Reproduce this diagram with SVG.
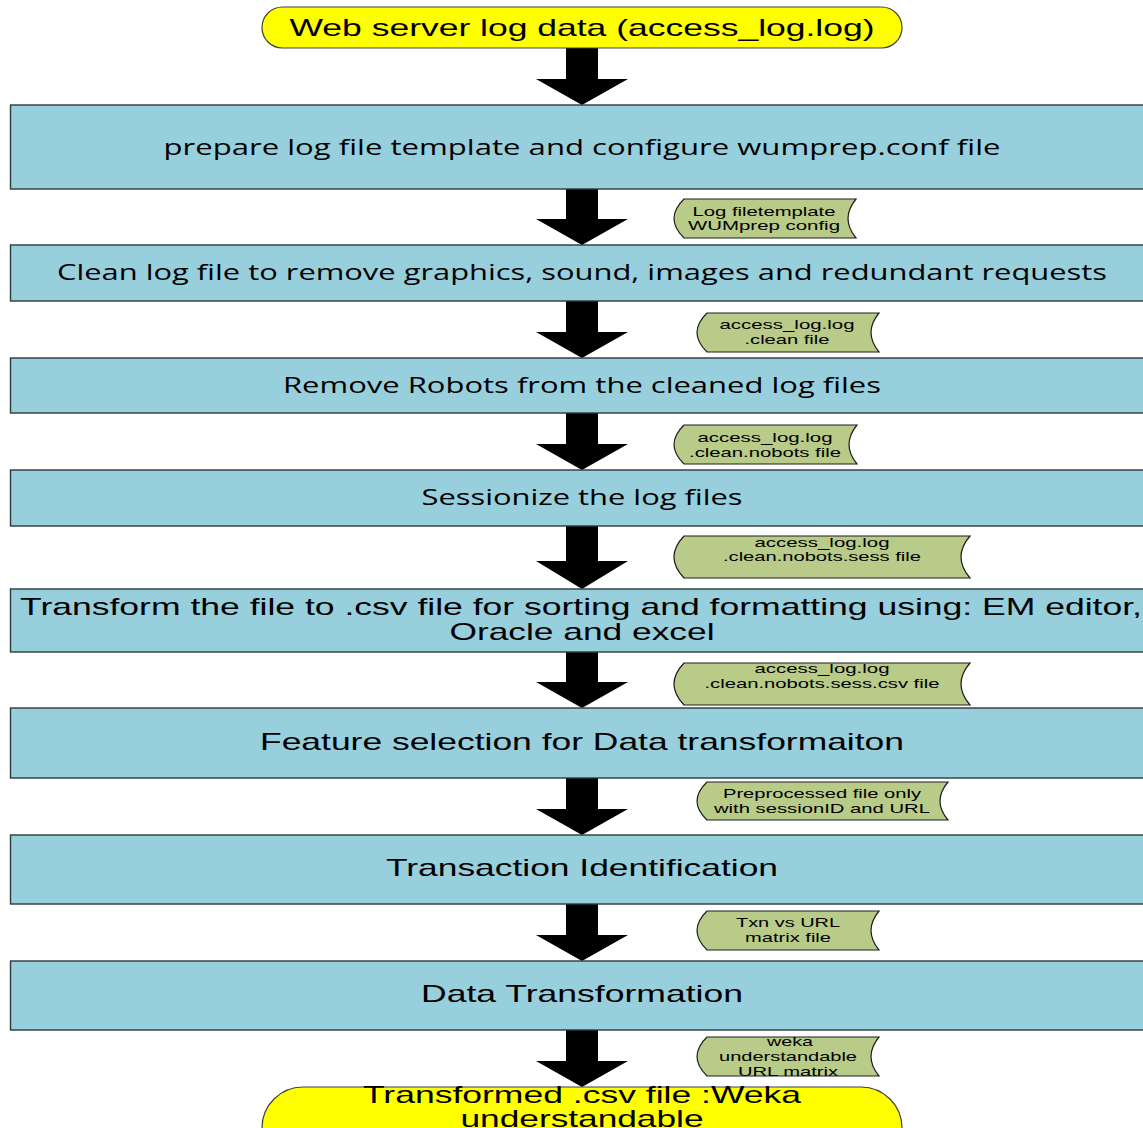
<svg xmlns="http://www.w3.org/2000/svg" width="1143" height="1128" viewBox="0 0 1143 1128">
  <style>
    .term { fill: #ffff00; stroke: #404040; stroke-width: 1.2; }
    .proc { fill: #98cfdd; stroke: #2b3a3e; stroke-width: 1.4; }
    .data { fill: #b9cb88; stroke: #1e1e1e; stroke-width: 1.2; }
    .arrow { fill: #000000; }
    .t-big { font-family: "Liberation Sans", Arial, sans-serif; font-size: 24px; fill: #000; text-anchor: middle; }
    .t-wide { font-family: "Open Sans", "DejaVu Sans", sans-serif; font-size: 21px; fill: #000; text-anchor: middle; }
    .t-small { font-family: "Liberation Sans", Arial, sans-serif; font-size: 13px; fill: #000; text-anchor: middle; }
  </style>
  <rect width="1143" height="1128" fill="#ffffff"/>

  <!-- block arrows between steps -->
  <g id="connectors">
    <path class="arrow" d="M566,48 H598 V79 H628 L582,105 L536,79 H566 Z"/>
    <path class="arrow" d="M566,189 H598 V219 H628 L582,245 L536,219 H566 Z"/>
    <path class="arrow" d="M566,301 H598 V332 H628 L582,358 L536,332 H566 Z"/>
    <path class="arrow" d="M566,413 H598 V444 H628 L582,470 L536,444 H566 Z"/>
    <path class="arrow" d="M566,526 H598 V561 H628 L582,589 L536,561 H566 Z"/>
    <path class="arrow" d="M566,652 H598 V682 H628 L582,708 L536,682 H566 Z"/>
    <path class="arrow" d="M566,778 H598 V809 H628 L582,835 L536,809 H566 Z"/>
    <path class="arrow" d="M566,904 H598 V935 H628 L582,961 L536,935 H566 Z"/>
    <path class="arrow" d="M566,1030 H598 V1061 H628 L582,1087 L536,1061 H566 Z"/>
  </g>

  <!-- start -->
  <g id="start">
    <rect class="term" x="262" y="7" width="640" height="41" rx="20.5" ry="20.5"/>
    <text class="t-big" x="582" y="36" textLength="585" lengthAdjust="spacingAndGlyphs">Web server log data (access_log.log)</text>
  </g>

  <!-- processing steps -->
  <g id="step-prepare">
    <rect class="proc" x="10.5" y="105" width="1145" height="84"/>
    <text class="t-wide" x="582" y="155" textLength="837" lengthAdjust="spacingAndGlyphs">prepare log file template and configure wumprep.conf file</text>
  </g>
  <g id="step-clean">
    <rect class="proc" x="10.5" y="245" width="1145" height="56"/>
    <text class="t-wide" x="582" y="280" textLength="1050" lengthAdjust="spacingAndGlyphs">Clean log file to remove graphics, sound, images and redundant requests</text>
  </g>
  <g id="step-robots">
    <rect class="proc" x="10.5" y="358" width="1145" height="55"/>
    <text class="t-wide" x="582" y="393" textLength="598" lengthAdjust="spacingAndGlyphs">Remove Robots from the cleaned log files</text>
  </g>
  <g id="step-sessionize">
    <rect class="proc" x="10.5" y="470" width="1145" height="56"/>
    <text class="t-wide" x="582" y="505" textLength="321" lengthAdjust="spacingAndGlyphs">Sessionize the log files</text>
  </g>
  <g id="step-csv">
    <rect class="proc" x="10.5" y="589" width="1145" height="63"/>
    <text class="t-big" x="581" y="615" textLength="1122" lengthAdjust="spacingAndGlyphs">Transform the file to .csv file for sorting and formatting using: EM editor,</text>
    <text class="t-big" x="582" y="640" textLength="265" lengthAdjust="spacingAndGlyphs">Oracle and excel</text>
  </g>
  <g id="step-feature">
    <rect class="proc" x="10.5" y="708" width="1145" height="70"/>
    <text class="t-big" x="582" y="750" textLength="644" lengthAdjust="spacingAndGlyphs">Feature selection for Data transformaiton</text>
  </g>
  <g id="step-transaction">
    <rect class="proc" x="10.5" y="835" width="1145" height="69"/>
    <text class="t-big" x="582" y="876" textLength="392" lengthAdjust="spacingAndGlyphs">Transaction Identification</text>
  </g>
  <g id="step-transform">
    <rect class="proc" x="10.5" y="961" width="1145" height="69"/>
    <text class="t-big" x="582" y="1002" textLength="322" lengthAdjust="spacingAndGlyphs">Data Transformation</text>
  </g>

  <!-- intermediate files (stored-data shapes) -->
  <g id="file-config">
    <path class="data" d="M684,199 H856 Q840,218.5 856,238 H684 Q664,218.5 684,199 Z"/>
    <text class="t-small" x="764" y="216" textLength="143" lengthAdjust="spacingAndGlyphs">Log filetemplate</text>
    <text class="t-small" x="764" y="230" textLength="152" lengthAdjust="spacingAndGlyphs">WUMprep config</text>
  </g>
  <g id="file-clean">
    <path class="data" d="M707,313 H879 Q863,332.5 879,352 H707 Q687,332.5 707,313 Z"/>
    <text class="t-small" x="787" y="329" textLength="135" lengthAdjust="spacingAndGlyphs">access_log.log</text>
    <text class="t-small" x="787" y="344" textLength="85" lengthAdjust="spacingAndGlyphs">.clean file</text>
  </g>
  <g id="file-nobots">
    <path class="data" d="M684,425 H857 Q841,444.5 857,464 H684 Q664,444.5 684,425 Z"/>
    <text class="t-small" x="765" y="442" textLength="135" lengthAdjust="spacingAndGlyphs">access_log.log</text>
    <text class="t-small" x="765" y="457" textLength="152" lengthAdjust="spacingAndGlyphs">.clean.nobots file</text>
  </g>
  <g id="file-sess">
    <path class="data" d="M684,536 H970 Q952,557 970,578 H684 Q664,557 684,536 Z"/>
    <text class="t-small" x="822" y="547" textLength="135" lengthAdjust="spacingAndGlyphs">access_log.log</text>
    <text class="t-small" x="822" y="561" textLength="198" lengthAdjust="spacingAndGlyphs">.clean.nobots.sess file</text>
  </g>
  <g id="file-sess-csv">
    <path class="data" d="M684,663 H970 Q952,684 970,705 H684 Q664,684 684,663 Z"/>
    <text class="t-small" x="822" y="673" textLength="135" lengthAdjust="spacingAndGlyphs">access_log.log</text>
    <text class="t-small" x="822" y="688" textLength="235" lengthAdjust="spacingAndGlyphs">.clean.nobots.sess.csv file</text>
  </g>
  <g id="file-preprocessed">
    <path class="data" d="M707,782 H948 Q932,801 948,820 H707 Q687,801 707,782 Z"/>
    <text class="t-small" x="822" y="798" textLength="198" lengthAdjust="spacingAndGlyphs">Preprocessed file only</text>
    <text class="t-small" x="822" y="813" textLength="216" lengthAdjust="spacingAndGlyphs">with sessionID and URL</text>
  </g>
  <g id="file-txn">
    <path class="data" d="M707,911 H879 Q863,930.5 879,950 H707 Q687,930.5 707,911 Z"/>
    <text class="t-small" x="788" y="927" textLength="104" lengthAdjust="spacingAndGlyphs">Txn vs URL</text>
    <text class="t-small" x="788" y="942" textLength="86" lengthAdjust="spacingAndGlyphs">matrix file</text>
  </g>
  <g id="file-weka">
    <path class="data" d="M707,1037 H879 Q863,1056.5 879,1076 H707 Q687,1056.5 707,1037 Z"/>
    <text class="t-small" x="790" y="1046" textLength="46" lengthAdjust="spacingAndGlyphs">weka</text>
    <text class="t-small" x="788" y="1061" textLength="138" lengthAdjust="spacingAndGlyphs">understandable</text>
    <text class="t-small" x="788" y="1076" textLength="100" lengthAdjust="spacingAndGlyphs">URL matrix</text>
  </g>

  <!-- end -->
  <g id="end">
    <rect class="term" x="262" y="1087" width="640" height="82" rx="41" ry="41"/>
    <text class="t-big" x="582" y="1103" textLength="438" lengthAdjust="spacingAndGlyphs">Transformed .csv file :Weka</text>
    <text class="t-big" x="582" y="1127" textLength="243" lengthAdjust="spacingAndGlyphs">understandable</text>
  </g>
</svg>
